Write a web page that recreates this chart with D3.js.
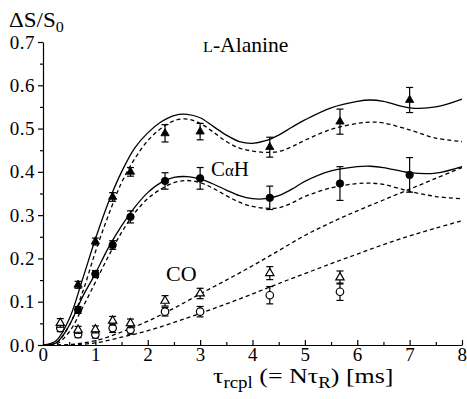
<!DOCTYPE html>
<html>
<head>
<meta charset="utf-8">
<script src="https://cdn.jsdelivr.net/npm/d3@7"></script>
<style>
  body { margin: 0; background: #fff; }
</style>
</head>
<body>
<div class="chart"></div>
<script>
// measured points (C-alpha-H filled, CO open)
const filledX = [0.67, 1.0, 1.33, 1.67, 2.33, 3.0, 4.33, 5.67, 7.0];
const chTriY = [0.139, 0.239, 0.342, 0.400, 0.489, 0.493, 0.457, 0.516, 0.566];
const chTriErr = [0.008, 0.008, 0.01, 0.01, 0.02, 0.019, 0.023, 0.029, 0.029];
const chCircY = [0.081, 0.164, 0.231, 0.296, 0.379, 0.385, 0.340, 0.373, 0.393];
const chCircErr = [0.008, 0.008, 0.01, 0.014, 0.019, 0.025, 0.027, 0.039, 0.04];

const openX = [0.33, 0.67, 1.0, 1.33, 1.67, 2.33, 3.0, 4.33, 5.67];
const coTriY = [0.051, 0.035, 0.036, 0.056, 0.050, 0.102, 0.119, 0.166, 0.156];
const coTriErr = [0.01, 0.008, 0.008, 0.01, 0.01, 0.012, 0.012, 0.015, 0.015];
const coCircY = [0.039, 0.025, 0.024, 0.039, 0.035, 0.077, 0.077, 0.115, 0.123];
const coCircErr = [0.008, 0.008, 0.008, 0.01, 0.01, 0.01, 0.012, 0.02, 0.02];

// simulated curves
const fitX = [0, 0.25, 0.5, 0.75, 1, 1.25, 1.5, 1.75, 2, 2.25, 2.5, 2.75, 3, 3.25, 3.5, 3.75, 4, 4.25, 4.5, 4.75, 5, 5.5, 6, 6.25, 6.5, 7, 7.5, 8];
const upperSolid = [0, 0.01, 0.06, 0.15, 0.245, 0.33, 0.40, 0.455, 0.49, 0.515, 0.53, 0.533, 0.525, 0.505, 0.485, 0.47, 0.466, 0.472, 0.485, 0.503, 0.52, 0.548, 0.563, 0.566, 0.563, 0.548, 0.55, 0.568];
const upperDash = [0, 0.005, 0.045, 0.12, 0.215, 0.30, 0.375, 0.43, 0.472, 0.50, 0.518, 0.522, 0.512, 0.492, 0.47, 0.455, 0.448, 0.445, 0.447, 0.458, 0.473, 0.498, 0.512, 0.515, 0.513, 0.497, 0.478, 0.47];
const lowerSolid = [0, 0.005, 0.045, 0.11, 0.165, 0.225, 0.275, 0.318, 0.352, 0.375, 0.387, 0.389, 0.383, 0.372, 0.358, 0.345, 0.338, 0.338, 0.345, 0.36, 0.378, 0.402, 0.412, 0.413, 0.41, 0.398, 0.397, 0.412];
const lowerDash = [0, 0.002, 0.03, 0.085, 0.145, 0.205, 0.26, 0.305, 0.338, 0.36, 0.375, 0.38, 0.375, 0.362, 0.345, 0.33, 0.32, 0.316, 0.317, 0.328, 0.343, 0.363, 0.373, 0.374, 0.371, 0.355, 0.343, 0.338];

const coFitX = [0, 0.5, 1, 1.5, 2, 2.5, 3, 3.5, 4, 4.5, 5, 5.5, 6, 6.5, 7, 7.5, 8];
const coUpper = [0, 0.001, 0.01, 0.03, 0.055, 0.085, 0.118, 0.15, 0.183, 0.218, 0.253, 0.283, 0.31, 0.335, 0.36, 0.385, 0.41];
const coLower = [0, 0, 0.005, 0.018, 0.033, 0.052, 0.073, 0.095, 0.118, 0.142, 0.165, 0.188, 0.21, 0.232, 0.252, 0.27, 0.287];

const xTicks = [0, 1, 2, 3, 4, 5, 6, 7, 8];
const yTicks = [0, 0.1, 0.2, 0.3, 0.4, 0.5, 0.6, 0.7];

const FONT = "'Liberation Serif', 'Times New Roman', serif";

const margin = {top: 42, left: 43, right: 5, bottom: 54};
const width = 467 - margin.left - margin.right,
    height = 399 - margin.top - margin.bottom;

const svg = d3.select(".chart")
    .append("svg")
    .attr("width", 467)
    .attr("height", 399);

const gr = svg.append("g")
    .attr("transform", "translate(" + margin.left + "," + margin.top + ")");

const xScale = d3.scaleLinear().domain([0, 8]).range([0, 419]);
const yScale = d3.scaleLinear().domain([0, 0.7]).range([height, 0]);

// minor ticks first, major axes on top
gr.append("g")
    .attr("class", "axis")
    .call(d3.axisLeft(yScale).tickValues(d3.range(0.05, 0.7, 0.1)).tickSize(3).tickFormat(""))
    .call(g => g.select(".domain").remove());

gr.append("g")
    .attr("class", "axis")
    .attr("transform", "translate(0," + height + ")")
    .call(d3.axisBottom(xScale).tickValues(d3.range(0.5, 8, 1)).tickSize(-3).tickFormat(""))
    .call(g => g.select(".domain").remove());

const yAxGr = gr.append("g")
    .attr("class", "axis y-axis")
    .call(d3.axisLeft(yScale).tickValues(yTicks).tickSize(5).tickSizeOuter(0).tickPadding(3).tickFormat(d3.format(".1f")));

const xAxGr = gr.append("g")
    .attr("class", "axis x-axis")
    .attr("transform", "translate(0," + height + ")")
    .call(d3.axisBottom(xScale).tickValues(xTicks).tickSize(-5).tickSizeOuter(0).tickPadding(2));

gr.selectAll(".axis path, .axis line").attr("stroke", "#000").attr("stroke-width", 1.2);
gr.selectAll(".axis text")
    .style("font-family", FONT)
    .style("font-size", "19px")
    .style("letter-spacing", "0.5px")
    .attr("fill", "#000");

// curves
const line = (xs) => d3.line()
    .x((d, i) => xScale(xs[i]))
    .y(d => yScale(d))
    .curve(d3.curveCatmullRom);

const curves = [
    {xs: fitX, ys: upperSolid, dash: null},
    {xs: fitX, ys: upperDash, dash: "4,3"},
    {xs: fitX, ys: lowerSolid, dash: null},
    {xs: fitX, ys: lowerDash, dash: "4,3"},
    {xs: coFitX, ys: coUpper, dash: "4,3"},
    {xs: coFitX, ys: coLower, dash: "4,3"}
];

gr.selectAll(".fit")
    .data(curves)
    .join("path")
    .attr("class", "fit")
    .attr("d", c => line(c.xs)(c.ys))
    .attr("fill", "none")
    .attr("stroke", "#000")
    .attr("stroke-width", 1.3)
    .attr("stroke-dasharray", c => c.dash);

// error bars + markers
function drawSeries(xs, ys, errs, shape, filled) {
    const pts = xs.map((x, i) => ({x: x, y: ys[i], e: errs[i]}));
    const g = gr.append("g");
    const eb = g.selectAll(".eb").data(pts).join("g");
    eb.append("line")
        .attr("x1", d => xScale(d.x)).attr("x2", d => xScale(d.x))
        .attr("y1", d => yScale(d.y - d.e)).attr("y2", d => yScale(d.y + d.e))
        .attr("stroke", "#000").attr("stroke-width", 1.2);
    [-1, 1].forEach(s => {
        eb.append("line")
            .attr("x1", d => xScale(d.x) - 3.5).attr("x2", d => xScale(d.x) + 3.5)
            .attr("y1", d => yScale(d.y + s * d.e)).attr("y2", d => yScale(d.y + s * d.e))
            .attr("stroke", "#000").attr("stroke-width", 1.2);
    });
    g.selectAll(".mk").data(pts).join("path")
        .attr("transform", d => "translate(" + xScale(d.x) + "," + yScale(d.y) + ")")
        .attr("d", d3.symbol().type(shape).size(shape === d3.symbolTriangle ? 30 : 44))
        .attr("fill", filled ? "#000" : "#fff")
        .attr("stroke", "#000")
        .attr("stroke-width", filled ? 0.8 : 1.2);
}

drawSeries(openX, coCircY, coCircErr, d3.symbolCircle, false);
drawSeries(openX, coTriY, coTriErr, d3.symbolTriangle, false);
drawSeries(filledX, chCircY, chCircErr, d3.symbolCircle, true);
drawSeries(filledX, chTriY, chTriErr, d3.symbolTriangle, true);

// labels (reference type is slightly wide, hence the x-scale)
function label(x, y, sx, size) {
    return svg.append("text")
        .attr("transform", "translate(" + x + "," + y + ") scale(" + sx + ",1)")
        .style("font-family", FONT)
        .style("font-size", size + "px")
        .attr("fill", "#000");
}

const yLab = label(9, 27, 1.15, 20);
yLab.append("tspan").text("ΔS/S");
yLab.append("tspan").attr("dy", 5).style("font-size", "14px").text("0");

const title = label(203, 52, 1.08, 20);
title.append("tspan").style("font-size", "15px").text("L");
title.append("tspan").text("-Alanine");

const ch = label(211, 176, 1.05, 20);
ch.append("tspan").text("C");
ch.append("tspan").style("font-size", "16px").text("α");
ch.append("tspan").text("H");

label(166, 281, 1.1, 20).text("CO");

const xLab = label(213, 383, 1.18, 22);
xLab.append("tspan").text("τ");
xLab.append("tspan").attr("dy", 5).style("font-size", "16px").text("rcpl");
xLab.append("tspan").attr("dy", -5).text(" (= Nτ");
xLab.append("tspan").attr("dy", 5).style("font-size", "16px").text("R");
xLab.append("tspan").attr("dy", -5).text(") [ms]");
</script>
</body>
</html>
